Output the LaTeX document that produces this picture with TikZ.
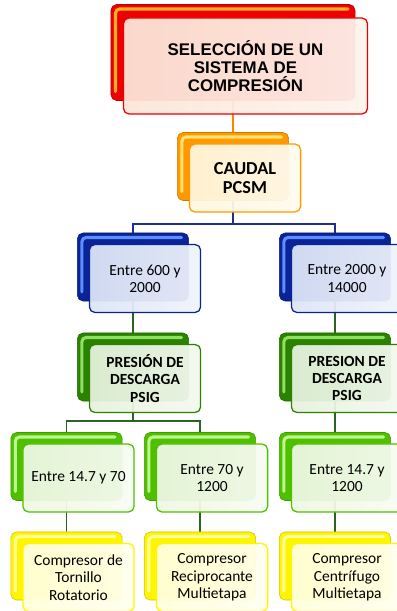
\documentclass[tikz,border=0pt]{standalone}
\usepackage{fontspec}
\setmainfont{Carlito}
\newfontfamily\titulofont{Liberation Sans}
\usetikzlibrary{positioning,backgrounds}

\definecolor{rojo}{HTML}{EE0000}
\definecolor{rojoluz}{HTML}{FFB020}
\definecolor{rojofrente}{HTML}{FCE6D8}
\definecolor{naranja}{HTML}{FF9900}
\definecolor{naranjaluz}{HTML}{FFE070}
\definecolor{naranjafrente}{HTML}{FFF6DC}
\definecolor{azul}{HTML}{0A2396}
\definecolor{azulluz}{HTML}{5C8EFF}
\definecolor{azulfrente}{HTML}{DCE5F7}
\definecolor{verde}{HTML}{2A8200}
\definecolor{verdeluz}{HTML}{8FDF60}
\definecolor{verdefrente}{HTML}{E6F2DD}
\definecolor{lima}{HTML}{4FC000}
\definecolor{limaluz}{HTML}{BDF590}
\definecolor{limafrente}{HTML}{EEF8E3}
\definecolor{amarillo}{HTML}{FFF500}
\definecolor{amarilloluz}{HTML}{FFFF9A}
\definecolor{amarillofrente}{HTML}{FFFFDC}
\definecolor{lineaazul}{HTML}{1F2F8F}
\definecolor{lineaverde}{HTML}{2A6420}

\tikzset{
  caja/.style={rectangle, rounded corners=4pt, minimum width=2.78cm, minimum height=1.7cm, inner sep=0pt},
  cajagrande/.style={minimum width=6.1cm, minimum height=2.4cm},
  atras/.style 2 args={caja, fill=#1, draw=#1!80!black, line width=0.4pt,
    path picture={\draw[draw=#2, line width=2.2pt, rounded corners=3pt, line cap=round]
      ([shift={(4.5,-9)}]path picture bounding box.south west)
      |- ([shift={(-7,4.5)}]path picture bounding box.north east);}},
  frente/.style 2 args={caja, draw=#1, line width=0.9pt, left color=#2, right color=#2!45!white,
    fill opacity=0.94, text opacity=1, align=center, text=black,
    font=\fontsize{11}{12.3}\selectfont},
  linea/.style={draw=#1, line width=1.3pt}
}

\begin{document}
\begin{tikzpicture}[x=0.025cm, y=-0.025cm]
  \useasboundingbox (0,0) rectangle (396,611);

  % titulo
  \node[atras={rojo}{rojoluz}, cajagrande] (titulob) at (233,52.5) {};
  \node[frente={rojo}{rojofrente}, cajagrande, font=\titulofont\bfseries\fontsize{12}{12.8}\selectfont]
    (titulo) at ([shift={(12.5,13.5)}]titulob.center) {SELECCIÓN DE UN\\SISTEMA DE\\COMPRESIÓN};

  % caudal
  \node[atras={naranja}{naranjaluz}] (caudalb) at (233,166.5) {};
  \node[frente={naranja}{naranjafrente}, font=\bfseries\fontsize{13}{13.6}\selectfont]
    (caudal) at ([shift={(12,11.5)}]caudalb.center) {CAUDAL\\PCSM};

  % rangos de caudal
  \node[atras={azul}{azulluz}] (rangoAb) at (133,267) {};
  \node[frente={azul}{azulfrente}] (rangoA) at ([shift={(12,11.5)}]rangoAb.center) {Entre 600 y\\2000};
  \node[atras={azul}{azulluz}] (rangoBb) at (335,267) {};
  \node[frente={azul}{azulfrente}] (rangoB) at ([shift={(12,11.5)}]rangoBb.center) {Entre 2000 y\\14000};

  % presion de descarga
  \node[atras={verde}{verdeluz}] (presionAb) at (133,367) {};
  \node[frente={verde}{verdefrente}, font=\bfseries\fontsize{11}{12.3}\selectfont]
    (presionA) at ([shift={(12,11.5)}]presionAb.center) {PRESIÓN DE\\DESCARGA\\PSIG};
  \node[atras={verde}{verdeluz}] (presionBb) at (335,367) {};
  \node[frente={verde}{verdefrente}, font=\bfseries\fontsize{11}{12.3}\selectfont]
    (presionB) at ([shift={(12,11.5)}]presionBb.center) {PRESION DE\\DESCARGA\\PSIG};

  % tramos de presion
  \node[atras={lima}{limaluz}] (tramoAb) at (66.5,466.5) {};
  \node[frente={lima}{limafrente}] (tramoA) at ([shift={(12,11.5)}]tramoAb.center) {Entre 14.7 y 70};
  \node[atras={lima}{limaluz}] (tramoBb) at (200,466.5) {};
  \node[frente={lima}{limafrente}] (tramoB) at ([shift={(12,11.5)}]tramoBb.center) {Entre 70 y\\1200};
  \node[atras={lima}{limaluz}] (tramoCb) at (335,466.5) {};
  \node[frente={lima}{limafrente}] (tramoC) at ([shift={(12,11.5)}]tramoCb.center) {Entre 14.7 y\\1200};

  % compresores
  \node[atras={amarillo}{amarilloluz}] (compAb) at (66.5,566) {};
  \node[frente={amarillo}{amarillofrente}] (compA) at ([shift={(12,11.5)}]compAb.center) {Compresor de\\Tornillo\\Rotatorio};
  \node[atras={amarillo}{amarilloluz}] (compBb) at (200,566) {};
  \node[frente={amarillo}{amarillofrente}] (compB) at ([shift={(12,11.5)}]compBb.center) {Compresor\\Reciprocante\\Multietapa};
  \node[atras={amarillo}{amarilloluz}] (compCb) at (335,566) {};
  \node[frente={amarillo}{amarillofrente}] (compC) at ([shift={(12,11.5)}]compCb.center) {Compresor\\Centrífugo\\Multietapa};

  % conectores
  \coordinate (busA) at (0,224);
  \coordinate (busB) at (0,421);
  \begin{scope}[on background layer]
    \draw[linea=naranja!85!red] (titulob) -- (caudalb);
    \draw[linea=lineaazul] (caudalb) -- (caudalb |- busA) -| (rangoAb);
    \draw[linea=lineaazul] (caudalb |- busA) -| (rangoBb);
    \draw[linea=lineaverde] (rangoAb) -- (presionAb);
    \draw[linea=lineaverde] (rangoBb) -- (presionBb);
    \draw[linea=lineaverde] (presionAb) -- (presionAb |- busB) -| (tramoAb);
    \draw[linea=lineaverde] (presionAb |- busB) -| (tramoBb);
    \draw[linea=lineaverde] (presionBb) -- (tramoCb);
    \draw[linea=lineaverde] (tramoAb) -- (compAb);
    \draw[linea=lineaverde] (tramoBb) -- (compBb);
    \draw[linea=lineaverde] (tramoCb) -- (compCb);
  \end{scope}
\end{tikzpicture}
\end{document}
